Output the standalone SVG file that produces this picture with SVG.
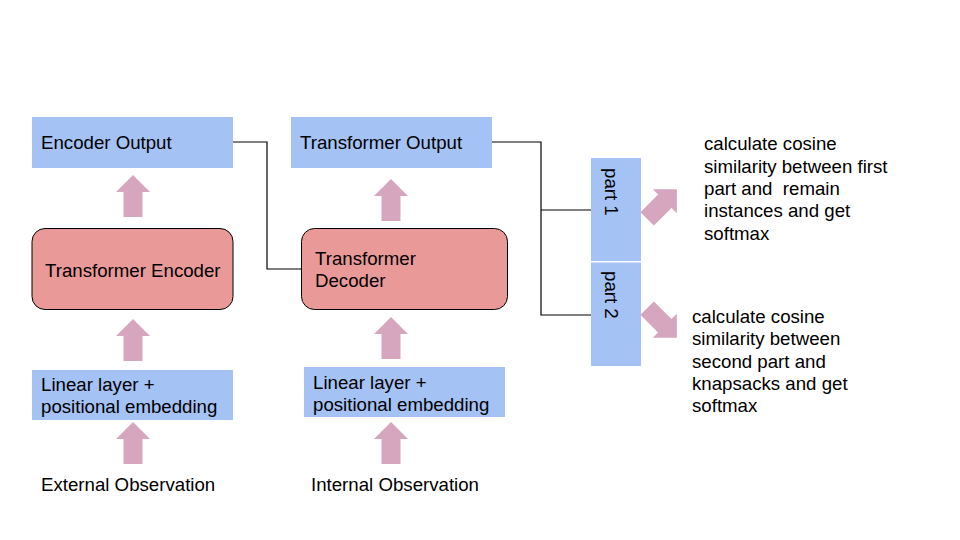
<svg xmlns="http://www.w3.org/2000/svg" width="960" height="540" viewBox="0 0 960 540">
<defs>
<style>
.t{font-family:"Liberation Sans",Arial,sans-serif;font-size:18.67px;fill:#000;white-space:pre}
.blue{fill:#a4c2f4}
.red{fill:#ea9999;stroke:#000;stroke-width:1}
.arr{fill:#d5a6bd}
.ln{fill:none;stroke:#000;stroke-width:1.2}
</style>
<polygon id="up" points="0,-21 17,-4 9.5,-4 9.5,21 -9.5,21 -9.5,-4 -17,-4"/>
</defs>
<rect width="960" height="540" fill="#fff"/>
<g id="connectors">
<polyline class="ln" points="233,142 267,142 267,269 302,269"/>
<polyline class="ln" points="492,142 541,142 541,315 591,315"/>
<line class="ln" x1="541" y1="210" x2="591" y2="210"/>
</g>
<g id="arrows">
<use href="#up" class="arr" x="133" y="196"/>
<use href="#up" class="arr" x="133" y="340"/>
<use href="#up" class="arr" x="133" y="443"/>
<use href="#up" class="arr" x="391" y="200"/>
<use href="#up" class="arr" x="391" y="338"/>
<use href="#up" class="arr" x="391" y="443"/>
<use href="#up" class="arr" transform="translate(662,204) rotate(45)"/>
<use href="#up" class="arr" transform="translate(662,323) rotate(135)"/>
</g>
<g id="encoder-output">
<rect class="blue" x="32" y="117" width="201" height="51"/>
<text class="t" x="41" y="149">Encoder Output</text>
</g>
<g id="transformer-output">
<rect class="blue" x="291" y="117" width="201" height="51"/>
<text class="t" x="300" y="149">Transformer Output</text>
</g>
<g id="transformer-encoder">
<rect class="red" x="32" y="228.5" width="201" height="81" rx="13"/>
<text class="t" x="45" y="277">Transformer Encoder</text>
</g>
<g id="transformer-decoder">
<rect class="red" x="301.5" y="228.5" width="206" height="81" rx="13"/>
<text class="t" x="315" y="265">Transformer</text>
<text class="t" x="315" y="287">Decoder</text>
</g>
<g id="linear-left">
<rect class="blue" x="32" y="370" width="201" height="50"/>
<text class="t" x="41" y="391">Linear layer +</text>
<text class="t" x="41" y="413">positional embedding</text>
</g>
<g id="linear-right">
<rect class="blue" x="304" y="367" width="201" height="50"/>
<text class="t" x="313" y="389">Linear layer +</text>
<text class="t" x="313" y="411">positional embedding</text>
</g>
<g id="external-observation">
<text class="t" x="41" y="491">External Observation</text>
</g>
<g id="internal-observation">
<text class="t" x="311" y="491">Internal Observation</text>
</g>
<g id="part1">
<rect class="blue" x="591" y="158" width="50" height="103"/>
<text class="t" transform="translate(605,168) rotate(90)">part 1</text>
</g>
<g id="part2">
<rect class="blue" x="591" y="262.5" width="50" height="103.5"/>
<text class="t" transform="translate(605,271) rotate(90)">part 2</text>
</g>
<g id="text-part1">
<text class="t" x="704" y="150">calculate cosine</text>
<text class="t" x="704" y="172.5">similarity between first</text>
<text class="t" x="704" y="195" xml:space="preserve">part and  remain</text>
<text class="t" x="704" y="217">instances and get</text>
<text class="t" x="704" y="239.5">softmax</text>
</g>
<g id="text-part2">
<text class="t" x="692" y="323">calculate cosine</text>
<text class="t" x="692" y="345">similarity between</text>
<text class="t" x="692" y="367.5">second part and</text>
<text class="t" x="692" y="390">knapsacks and get</text>
<text class="t" x="692" y="412">softmax</text>
</g>
</svg>
